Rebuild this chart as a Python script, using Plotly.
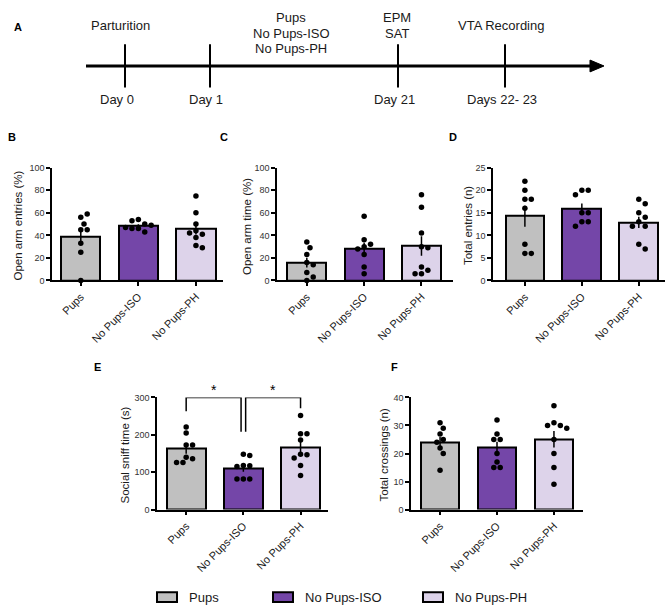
import numpy as np
import plotly.graph_objects as go

# ---------------- data ----------------
categories = ["Pups", "No Pups-ISO", "No Pups-PH"]
bar_colors = ["#c0c0c0", "#7446a8", "#ddd3ea"]

# B: Open arm entries (%)
b_pups = [0, 25, 33, 45, 45, 56, 59, 50]
b_iso = [54, 50, 46, 43, 46, 53, 49, 47]
b_ph = [75, 60, 50, 44, 41, 42, 38, 31, 29]
# C: Open arm time (%)
c_pups = [34, 29, 23, 16, 14, 7, 3, 0]
c_iso = [57, 36, 32, 30, 28, 23, 12, 6]
c_ph = [76, 65, 42, 30, 29, 12, 9, 6, 6]
# D: Total entries (n)
d_pups = [22, 20, 18, 18, 16, 8, 6, 6]
d_iso = [20, 20, 19, 15, 15, 13, 13, 12]
d_ph = [18, 17, 15, 14, 13, 12, 12, 8, 7]
# E: Social sniff time (s)
e_pups = [221, 205, 173, 173, 140, 136, 126, 126]
e_iso = [148, 145, 118, 117, 115, 82, 82, 82]
e_ph = [252, 203, 203, 186, 148, 147, 138, 118, 91]
# F: Total crossings (n)
f_pups = [31, 29, 27, 25, 24, 22, 20, 14]
f_iso = [32, 27, 25, 25, 20, 17, 15, 15]
f_ph = [37, 31, 30, 30, 29, 25, 20, 15, 9]

timeline_ticks = ["Day 0", "Day 1", "Day 21", "Days 22- 23"]
timeline_events = [["Parturition"], ["Pups", "No Pups-ISO", "No Pups-PH"], ["EPM", "SAT"], ["VTA Recording"]]

W, H = 669, 610
FONT = "Liberation Sans, Arial, sans-serif"


def px(x):
    return x / W


def py(y):
    return 1 - y / H


panels = [
    dict(l=52, r=223, t=165.5, b=280, ymax=100, dtick=20, title="Open arm entries (%)", tx=18.5,
         xr=[-0.5, 2.47], data=[b_pups, b_iso, b_ph], label="B", lx=12, ly=134),
    dict(l=277, r=453, t=165.5, b=280, ymax=100, dtick=20, title="Open arm time (%)", tx=247,
         xr=[-0.52, 2.55], data=[c_pups, c_iso, c_ph], label="C", lx=224, ly=134),
    dict(l=493, r=665, t=165.5, b=280, ymax=25, dtick=5, title="Total entries (n)", tx=468,
         xr=[-0.56, 2.46], data=[d_pups, d_iso, d_ph], label="D", lx=453, ly=134),
    dict(l=157, r=328, t=399, b=513, ymax=300, dtick=100, title="Social sniff time (s)", tx=125,
         xr=[-0.51, 2.48], data=[e_pups, e_iso, e_ph], label="E", lx=98, ly=368),
    dict(l=411, r=583, t=399, b=513, ymax=40, dtick=10, title="Total crossings (n)", tx=384,
         xr=[-0.51, 2.51], data=[f_pups, f_iso, f_ph], label="F", lx=394, ly=368),
]


def swarm(vals, ppx, ppy, d=6.0, step=3.2):
    placed = []
    out = []
    for v in vals:
        y = v * ppy
        cands = [0.0]
        for i in range(1, 15):
            cands += [i * step, -i * step]
        chosen = cands[-1]
        for c in cands:
            if all((c - a) ** 2 + (y - b) ** 2 >= d * d for a, b in placed):
                chosen = c
                break
        placed.append((chosen, y))
        out.append(chosen / ppx)
    return out


fig = go.Figure()
layout = {}
annotations = []
shapes = []

for i, p in enumerate(panels):
    n = "" if i == 0 else str(i + 1)
    xa, ya = "x" + n, "y" + n
    means = [float(np.mean(v)) for v in p["data"]]
    sems = [float(np.std(v, ddof=1) / np.sqrt(len(v))) for v in p["data"]]
    fig.add_trace(go.Bar(
        x=[0, 1, 2], y=means, width=0.68, xaxis=xa, yaxis=ya,
        marker=dict(color=bar_colors, line=dict(color="black", width=2)),
        error_y=dict(type="data", array=sems, color="black", thickness=1.5, width=0),
        showlegend=False, hoverinfo="skip"))
    ppx = (p["r"] - p["l"]) / (p["xr"][1] - p["xr"][0])
    ppy = (p["b"] - p["t"]) / p["ymax"]
    for k, vals in enumerate(p["data"]):
        offs = swarm(vals, ppx, ppy)
        fig.add_trace(go.Scatter(
            x=[k + o for o in offs], y=vals, xaxis=xa, yaxis=ya, mode="markers",
            marker=dict(color="black", size=5.5), cliponaxis=False,
            showlegend=False, hoverinfo="skip"))
    layout["xaxis" + n] = dict(
        domain=[px(p["l"]), px(p["r"])], range=p["xr"], anchor=ya,
        tickvals=[0, 1, 2], ticktext=categories, tickangle=-45,
        showline=True, linecolor="black", linewidth=1.5, ticks="outside",
        ticklen=4, tickwidth=1.5, tickcolor="black", showgrid=False, zeroline=False,
        tickfont=dict(size=11, color="#1a1a1a", family=FONT), fixedrange=True)
    layout["yaxis" + n] = dict(
        domain=[py(p["b"]), py(p["t"])], range=[0, p["ymax"]], anchor=xa,
        dtick=p["dtick"], tick0=0, showline=True, linecolor="black", linewidth=1.5,
        ticks="outside", ticklen=4, tickwidth=1.5, tickcolor="black",
        showgrid=False, zeroline=False,
        tickfont=dict(size=9, color="#333333", family=FONT), fixedrange=True)
    annotations.append(dict(
        text=p["title"], x=px(p["tx"]), y=py((p["t"] + p["b"]) / 2 + 2), xref="paper", yref="paper",
        textangle=-90, showarrow=False, xanchor="center", yanchor="middle",
        font=dict(size=11.5, color="#1a1a1a", family=FONT)))
    annotations.append(dict(
        text="<b>%s</b>" % p["label"], x=px(p["lx"]), y=py(p["ly"]), xref="paper", yref="paper",
        showarrow=False, xanchor="center", yanchor="middle",
        font=dict(size=11, color="black", family=FONT)))

# significance brackets on panel E (axis x4 / y4)
br = dict(type="path", xref="x4", yref="y4", line=dict(color="black", width=1.5))
shapes.append(dict(br, path="M 0,263 L 0,300 L 0.96,300 L 0.96,208"))
shapes.append(dict(br, path="M 1.04,208 L 1.04,300 L 2,300 L 2,271"))
for xs in [0.48, 1.52]:
    annotations.append(dict(text="*", x=xs, y=300, xref="x4", yref="y4", showarrow=False,
                            xanchor="center", yanchor="bottom", yshift=-3,
                            font=dict(size=14, color="black", family=FONT)))

# ---------------- timeline (panel A) ----------------
annotations.append(dict(text="<b>A</b>", x=px(12), y=py(14), xref="paper", yref="paper",
                        showarrow=False, font=dict(size=11, color="black", family=FONT)))
line_y = 62
shapes.append(dict(type="line", xref="paper", yref="paper", x0=px(86), x1=px(594),
                   y0=py(line_y), y1=py(line_y), line=dict(color="black", width=3)))
shapes.append(dict(type="path", xref="paper", yref="paper",
                   path="M %f,%f L %f,%f L %f,%f Z" % (px(590), py(line_y - 6), px(604), py(line_y),
                                                      px(590), py(line_y + 6)),
                   fillcolor="black", line=dict(color="black", width=1)))
tick_x = [125, 210, 398, 505]
tick_lbl_x = [117, 206, 394, 502]
event_x = [120, 291, 397, 501]
event_y = [[21], [13, 28.5, 44], [13, 28.5], [21]]
for k in range(4):
    shapes.append(dict(type="line", xref="paper", yref="paper", x0=px(tick_x[k]), x1=px(tick_x[k]),
                       y0=py(40), y1=py(84), line=dict(color="black", width=2)))
    annotations.append(dict(text=timeline_ticks[k], x=px(tick_lbl_x[k]), y=py(96), xref="paper",
                            yref="paper", showarrow=False, xanchor="center", yanchor="middle",
                            font=dict(size=13, color="#1a1a1a", family=FONT)))
    for t, yy in zip(timeline_events[k], event_y[k]):
        annotations.append(dict(text=t, x=px(event_x[k]), y=py(yy), xref="paper", yref="paper",
                                showarrow=False, xanchor="center", yanchor="middle",
                                font=dict(size=13, color="#1a1a1a", family=FONT)))

# ---------------- legend ----------------
leg_x = [157, 273, 423]
for k in range(3):
    shapes.append(dict(type="rect", xref="paper", yref="paper", x0=px(leg_x[k]), x1=px(leg_x[k] + 20),
                       y0=py(607), y1=py(597), fillcolor=bar_colors[k],
                       line=dict(color="black", width=2)))
    annotations.append(dict(text=categories[k], x=px(leg_x[k] + 30), y=py(602), xref="paper",
                            yref="paper", showarrow=False, xanchor="left", yanchor="middle",
                            font=dict(size=13, color="#1a1a1a", family=FONT)))

fig.update_layout(
    width=W, height=H, margin=dict(l=0, r=0, t=0, b=0),
    paper_bgcolor="white", plot_bgcolor="white",
    annotations=annotations, shapes=shapes, bargap=0, **layout)

fig.write_html("out.html", config={"displayModeBar": False},
               post_script="document.body.style.margin='0';document.body.style.overflow='hidden';")
